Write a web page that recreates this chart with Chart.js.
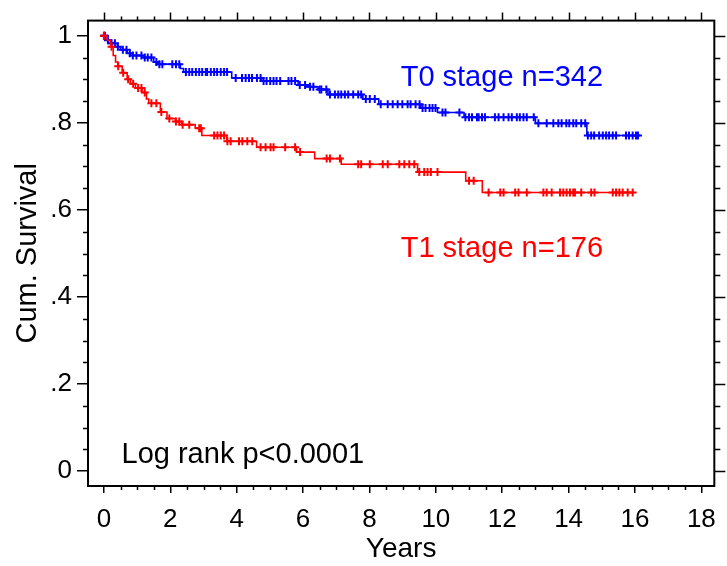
<!DOCTYPE html>
<html>
<head>
<meta charset="utf-8">
<script src="https://cdn.jsdelivr.net/npm/chart.js@4/dist/chart.umd.min.js"></script>
<style>
  html, body { margin: 0; padding: 0; background: #fff; }
  #wrap { width: 727px; height: 566px; }
</style>
</head>
<body>
<div id="wrap"><canvas id="km"></canvas></div>
<script>
/* Kaplan-Meier steps: time (years) and survival after the drop */
var t0Times = [0, 0.1, 0.2, 0.35, 0.5, 0.7, 0.8, 1.2, 1.5, 1.6, 2.3, 2.4, 3.85, 4.75, 5.85, 6.1, 6.45, 6.75, 7.8, 8.28, 9.55, 10.05, 10.85, 13.0, 14.55, 16.1];
var t0Surv  = [1, 0.99, 0.983, 0.975, 0.968, 0.96, 0.955, 0.95, 0.94, 0.935, 0.925, 0.917, 0.903, 0.896, 0.887, 0.883, 0.877, 0.865, 0.855, 0.843, 0.834, 0.824, 0.813, 0.799, 0.771, 0.771];

var t1Times = [0, 0.1, 0.2, 0.28, 0.35, 0.42, 0.55, 0.7, 0.8, 0.95, 1.15, 1.28, 1.35, 1.7, 1.9, 2.15, 2.35, 2.75, 2.95, 3.7, 4.6, 5.8, 6.35, 7.15, 9.45, 10.9, 11.4, 15.97];
var t1Surv  = [1, 0.99, 0.975, 0.955, 0.94, 0.93, 0.915, 0.9, 0.89, 0.88, 0.87, 0.855, 0.845, 0.825, 0.81, 0.803, 0.796, 0.788, 0.771, 0.758, 0.744, 0.733, 0.718, 0.705, 0.687, 0.667, 0.64, 0.64];

/* censored cases (the + marks) */
var t0Censored = [0, 0.03, 0.12, 0.23, 0.33, 0.42, 0.57, 0.68, 0.78, 0.87, 0.98, 1.13, 1.23, 1.32, 1.43, 1.58, 1.67, 1.76,
  2.06, 2.17, 2.27, 2.47, 2.57, 2.66, 2.77, 2.87, 2.96, 3.07, 3.11, 3.22, 3.32, 3.41, 3.52, 3.62, 3.71, 3.97, 4.16, 4.27,
  4.37, 4.46, 4.61, 4.72, 4.81, 4.9, 5.01, 5.11, 5.2, 5.31, 5.56, 5.65, 5.76, 5.9, 6.06, 6.21, 6.31, 6.5, 6.55, 6.7, 6.81,
  6.96, 7.06, 7.15, 7.26, 7.36, 7.51, 7.66, 7.75, 7.89, 8.01, 8.16, 8.34, 8.55, 8.7, 8.85, 8.99, 9.15, 9.24, 9.39, 9.51,
  9.6, 9.69, 9.81, 9.9, 9.99, 10.2, 10.29, 10.71, 10.89, 11.0, 11.09, 11.24, 11.29, 11.39, 11.48, 11.78, 11.89, 12.04,
  12.19, 12.29, 12.44, 12.53, 12.64, 12.74, 12.95, 13.09, 13.34, 13.54, 13.69, 13.79, 13.93, 14.02, 14.14, 14.23, 14.38,
  14.5, 14.58, 14.68, 14.77, 14.92, 15.03, 15.13, 15.22, 15.33, 15.43, 15.73, 15.82, 15.93, 16.03, 16.09];
var t1Censored = [0, 0.23, 0.43, 0.58, 0.73, 0.88, 1.03, 1.13, 1.23, 1.43, 1.58, 1.73, 1.97, 2.17, 2.27, 2.37, 2.57, 2.87,
  2.92, 3.32, 3.42, 3.52, 3.62, 3.72, 3.82, 4.07, 4.17, 4.32, 4.47, 4.72, 4.87, 5.02, 5.11, 5.46, 5.76, 5.91, 6.71, 6.81,
  7.11, 7.66, 7.75, 8.01, 8.4, 8.55, 8.9, 9.05, 9.2, 9.35, 9.5, 9.65, 9.75, 9.85, 10.05, 11.0, 11.14, 11.59, 11.94, 12.04,
  12.39, 12.49, 12.74, 13.24, 13.34, 13.49, 13.74, 13.84, 13.94, 14.04, 14.14, 14.19, 14.38, 14.68, 14.78, 15.33, 15.43,
  15.53, 15.63, 15.78, 15.93];

var yTickValues = [0, 0.2, 0.4, 0.6, 0.8, 1];
var yTickLabels = ['0', '.2', '.4', '.6', '.8', '1'];

var FONT = "'Liberation Sans', Arial, sans-serif";

function toPoints(times, surv) {
  return times.map(function (t, i) { return { x: t, y: surv[i] }; });
}

/* survival level of a group at time t (last step at or before t) */
function survivalAt(times, surv, t) {
  var s = surv[0];
  for (var i = 0; i < times.length; i++) {
    if (times[i] <= t) s = surv[i];
  }
  return s;
}

function censorPoints(censored, times, surv) {
  return censored.map(function (t) { return { x: t, y: survivalAt(times, surv, t) }; });
}

/* frame plus the small ticks on all four sides */
var framePlugin = {
  id: 'frame',
  afterDraw: function (chart) {
    var ctx = chart.ctx, a = chart.chartArea;
    var xs = chart.scales.x, ys = chart.scales.y;
    var v, p, major;
    ctx.save();
    ctx.strokeStyle = '#000';
    ctx.lineWidth = 2;
    ctx.strokeRect(a.left, a.top, a.right - a.left, a.bottom - a.top);
    ctx.lineWidth = 1.5;
    ctx.beginPath();
    for (v = 0; v <= 18.001; v += 0.5) {
      p = Math.round(xs.getPixelForValue(v)) + 0.5;
      major = Math.abs(v / 2 - Math.round(v / 2)) < 1e-6;
      if (!major) { ctx.moveTo(p, a.bottom); ctx.lineTo(p, a.bottom + 4); }
      ctx.moveTo(p, a.top); ctx.lineTo(p, a.top - (major ? 8 : 4));
    }
    for (v = 0; v <= 1.001; v += 0.05) {
      p = Math.round(ys.getPixelForValue(v)) + 0.5;
      major = Math.abs(v / 0.2 - Math.round(v / 0.2)) < 1e-6;
      if (!major) { ctx.moveTo(a.left, p); ctx.lineTo(a.left - 5, p); }
      ctx.moveTo(a.right, p); ctx.lineTo(a.right + (major ? 11 : 6), p);
    }
    ctx.stroke();
    ctx.restore();
  }
};

/* text written inside the plot, placed in data units */
var notesPlugin = {
  id: 'notes',
  afterDatasetsDraw: function (chart, args, opts) {
    var ctx = chart.ctx;
    ctx.save();
    ctx.textAlign = 'left';
    ctx.textBaseline = 'alphabetic';
    opts.items.forEach(function (it) {
      ctx.font = it.size + 'px ' + FONT;
      ctx.fillStyle = it.color;
      ctx.fillText(it.text, chart.scales.x.getPixelForValue(it.x), chart.scales.y.getPixelForValue(it.y));
    });
    ctx.restore();
  }
};

var tickFont = { family: FONT, size: 26 };
var titleFont = { family: FONT, size: 28 };

new Chart(document.getElementById('km'), {
  type: 'line',
  data: {
    datasets: [
      {
        label: 'T1 censored',
        data: censorPoints(t1Censored, t1Times, t1Surv),
        showLine: false,
        pointStyle: 'cross',
        pointRadius: 4,
        pointBorderWidth: 2,
        borderColor: '#ff0000',
        order: 0
      },
      {
        label: 'T1 stage',
        data: toPoints(t1Times, t1Surv),
        stepped: 'before',
        borderColor: '#ff0000',
        borderWidth: 1.6,
        pointRadius: 0,
        fill: false,
        order: 1
      },
      {
        label: 'T0 censored',
        data: censorPoints(t0Censored, t0Times, t0Surv),
        showLine: false,
        pointStyle: 'cross',
        pointRadius: 4,
        pointBorderWidth: 2,
        borderColor: '#0000ff',
        order: 2
      },
      {
        label: 'T0 stage',
        data: toPoints(t0Times, t0Surv),
        stepped: 'before',
        borderColor: '#0000ff',
        borderWidth: 1.6,
        pointRadius: 0,
        fill: false,
        order: 3
      }
    ]
  },
  options: {
    responsive: true,
    maintainAspectRatio: false,
    animation: false,
    layout: { padding: { top: 17, right: 8, left: 0, bottom: 0 } },
    plugins: {
      legend: { display: false },
      tooltip: { enabled: false },
      notes: {
        items: [
          { text: 'T0 stage n=342', x: 8.94, y: 0.885, size: 29, color: '#0000ff' },
          { text: 'T1 stage n=176', x: 8.94, y: 0.493, size: 29, color: '#ff0000' },
          { text: 'Log rank p<0.0001', x: 0.53, y: 0.018, size: 29, color: '#000' }
        ]
      }
    },
    scales: {
      x: {
        type: 'linear',
        min: -0.48,
        max: 18.39,
        border: { display: false },
        grid: { drawOnChartArea: false, drawTicks: true, tickLength: 7, color: '#000', lineWidth: 1.5 },
        ticks: { stepSize: 2, includeBounds: false, autoSkip: false, maxRotation: 0, padding: 11, color: '#000', font: tickFont },
        title: { display: true, text: 'Years', color: '#000', font: titleFont, padding: 0 },
        afterFit: function (s) { s.height = 80; }
      },
      y: {
        min: -0.034,
        max: 1.035,
        border: { display: false },
        grid: { drawOnChartArea: false, drawTicks: true, tickLength: 11, color: '#000', lineWidth: 1.5 },
        ticks: {
          stepSize: 0.2, includeBounds: false, padding: 5, color: '#000', font: tickFont,
          callback: function (value) {
            var i = yTickValues.findIndex(function (v) { return Math.abs(v - value) < 1e-6; });
            return i >= 0 ? yTickLabels[i] : '';
          }
        },
        title: { display: true, text: 'Cum. Survival', color: '#000', font: { family: FONT, size: 29 }, padding: { top: 11, bottom: 0 } },
        afterFit: function (s) { s.width = 88; }
      }
    }
  },
  plugins: [framePlugin, notesPlugin]
});
</script>
</body>
</html>
